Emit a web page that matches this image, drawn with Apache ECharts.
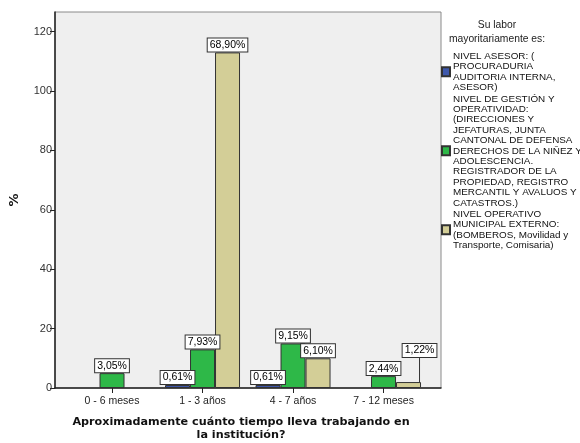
<!DOCTYPE html>
<html>
<head>
<meta charset="utf-8">
<script src="https://cdn.jsdelivr.net/npm/echarts@6/dist/echarts.min.js"></script>
<style>
  html, body { margin: 0; padding: 0; background: #ffffff; }
  #chart { width: 580px; height: 443px; }
</style>
</head>
<body>
<div id="chart"></div>
<script>
// Time working at the institution (x categories)
const categories = ['0 - 6 meses', '1 - 3 años', '4 - 7 años', '7 - 12 meses'];

// Counts per group (bar heights) and their share of the total (labels)
const asesorCounts = [null, 1, 1, null];
const asesorPct = [null, '0,61%', '0,61%', null];
const gestionCounts = [5, 13, 15, 4];
const gestionPct = ['3,05%', '7,93%', '9,15%', '2,44%'];
const operativoCounts = [null, 113, 10, 2];
const operativoPct = [null, '68,90%', '6,10%', '1,22%'];

const yTicks = [0, 20, 40, 60, 80, 100, 120];

const legendNames = [
  'NIVEL ASESOR: (\nPROCURADURIA\nAUDITORIA INTERNA,\nASESOR)',
  'NIVEL DE GESTIÓN Y\nOPERATIVIDAD:\n(DIRECCIONES Y\nJEFATURAS, JUNTA\nCANTONAL DE DEFENSA\nDERECHOS DE LA NIÑEZ Y\nADOLESCENCIA.\nREGISTRADOR DE LA\nPROPIEDAD, REGISTRO\nMERCANTIL Y AVALUOS Y\nCATASTROS.)',
  'NIVEL OPERATIVO\nMUNICIPAL EXTERNO:\n(BOMBEROS, Movilidad y\nTransporte, Comisaria)'
];
const colors = ['#3e58ac', '#2eb848', '#d3ce97'];

const FONT = '"Liberation Sans", Arial, sans-serif';

const labelStyle = {
  show: true,
  position: 'top',
  distance: 1,
  fontFamily: FONT,
  fontSize: 10.5,
  lineHeight: 11,
  color: '#000',
  backgroundColor: '#ffffff',
  borderColor: '#333333',
  borderWidth: 1,
  padding: [1, 2, 1, 2]
};

function makeSeries(idx, counts, pcts, leaderIndex) {
  return {
    name: legendNames[idx],
    type: 'bar',
    barWidth: 25,
    barGap: '0%',
    itemStyle: { color: colors[idx], borderColor: '#333333', borderWidth: 1 },
    label: Object.assign({}, labelStyle, {
      formatter: p => pcts[p.dataIndex] || ''
    }),
    labelLine: { show: false, lineStyle: { color: '#333333', width: 1 } },
    labelLayout: p => (p.dataIndex === leaderIndex ? { dx: 11, dy: -24 } : {}),
    data: counts.map((v, i) => {
      const item = { value: [i, v] };
      if (i === leaderIndex) item.labelLine = { show: true };
      return item;
    })
  };
}

const chart = echarts.init(document.getElementById('chart'), null, { renderer: 'canvas' });

chart.setOption({
  animation: false,
  backgroundColor: '#ffffff',
  textStyle: { fontFamily: FONT },
  grid: {
    left: 55, right: 139, top: 12, bottom: 55,
    show: true,
    backgroundColor: '#efefef',
    borderColor: '#8a8a8a',
    borderWidth: 1
  },
  xAxis: {
    type: 'value',
    min: -0.63,
    max: 3.635,
    splitLine: { show: false },
    axisLine: { show: true, onZero: false, lineStyle: { color: '#222', width: 1.5 } },
    axisTick: { show: true, length: 5, customValues: [0, 1, 2, 3], lineStyle: { color: '#222' } },
    axisLabel: {
      customValues: [0, 1, 2, 3],
      formatter: v => categories[Math.round(v)],
      fontFamily: FONT, fontSize: 10.5, color: '#222', margin: 8
    }
  },
  yAxis: {
    type: 'value',
    min: 0,
    max: 126.6,
    interval: 20,
    splitLine: { show: false },
    axisLine: { show: true, onZero: false, lineStyle: { color: '#222', width: 1.5 } },
    axisTick: { show: true, length: 5, customValues: yTicks, lineStyle: { color: '#222' } },
    axisLabel: {
      customValues: yTicks,
      fontFamily: FONT, fontSize: 11, color: '#333', margin: 3
    }
  },
  legend: {
    orient: 'vertical',
    left: 441,
    top: 51,
    padding: 0,
    itemWidth: 8,
    itemHeight: 9,
    itemGap: 1,
    icon: 'rect',
    selectedMode: false,
    textStyle: { fontFamily: FONT, fontSize: 9.9, lineHeight: 10.4, color: '#111', padding: [0, 0, 0, -2] },
    data: legendNames
  },
  graphic: [
    {
      type: 'text', x: 497, y: 18,
      style: {
        text: 'Su labor\nmayoritariamente es:',
        align: 'center', verticalAlign: 'top',
        fontFamily: FONT, fontSize: 10.3, lineHeight: 14, fill: '#222'
      }
    },
    {
      type: 'text', x: 241, y: 416,
      style: {
        text: 'Aproximadamente cuánto tiempo lleva trabajando en\nla institución?',
        align: 'center', verticalAlign: 'top',
        fontFamily: '"DejaVu Sans", sans-serif', fontWeight: 'bold', fontSize: 11.2, lineHeight: 13, fill: '#111'
      }
    },
    {
      type: 'text', x: 15, y: 200, rotation: Math.PI / 2,
      style: {
        text: '%', align: 'center', verticalAlign: 'middle',
        fontFamily: '"DejaVu Sans", sans-serif', fontWeight: 'bold', fontSize: 13, fill: '#111'
      }
    }
  ],
  series: [
    makeSeries(0, asesorCounts, asesorPct, -1),
    makeSeries(1, gestionCounts, gestionPct, -1),
    makeSeries(2, operativoCounts, operativoPct, 3)
  ]
});
</script>
</body>
</html>
